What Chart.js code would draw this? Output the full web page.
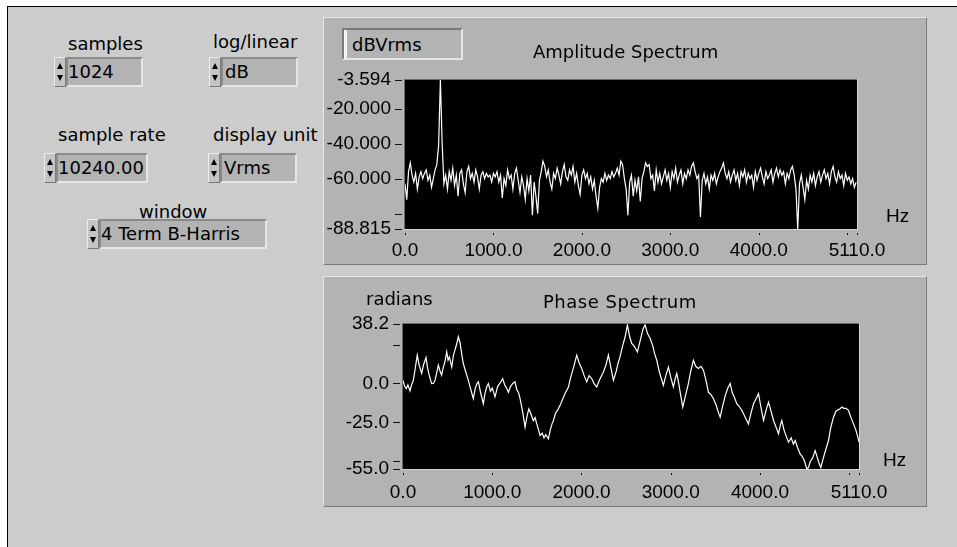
<!DOCTYPE html>
<html>
<head>
<meta charset="utf-8">
<script src="https://cdn.jsdelivr.net/npm/chart.js@4.4.1/dist/chart.umd.min.js"></script>
<style>
  body { margin: 0; background: #fff; width: 957px; height: 547px; overflow: hidden; position: relative; }
  #frame { position: absolute; left: 7px; top: 6px; width: 960px; height: 560px; background: #cccccc;
           border-left: 1px solid #000; border-top: 1px solid #000; }
  .txt { position: absolute; font-family: "DejaVu Sans"; font-size: 18px; line-height: 18px; color: #000; white-space: nowrap; }
  .hz { position: absolute; font-family: "Liberation Sans"; font-size: 19px; line-height: 19px; color: #000; }
  .panel { position: absolute; background: #b3b3b3; box-sizing: border-box;
           border: 1px solid; border-color: #e8e8e8 #7a7a7a #7a7a7a #e8e8e8; }
  .box { position: absolute; height: 30px; background: #b3b3b3; box-sizing: border-box;
         border: 2px solid; border-color: #8a8a8a #e6e6e6 #e6e6e6 #8a8a8a;
         font-family: "DejaVu Sans"; font-size: 18px; line-height: 18px; padding-top: 4px; white-space: nowrap; }
  .spin { position: absolute; width: 12px; height: 30px; box-sizing: border-box; background: #c4c4c4;
          border: 1px solid; border-color: #ececec #7a7a7a #7a7a7a #ececec; }
  .spin i { position: absolute; left: 2px; width: 0; height: 0; border-left: 3px solid transparent; border-right: 3px solid transparent; }
  .spin .up { top: 5px; border-bottom: 6px solid #000; }
  .spin .dn { bottom: 5px; border-top: 6px solid #000; }
  canvas { position: absolute; }
</style>
</head>
<body>
<div id="frame"></div>

<!-- left side controls -->
<div class="txt" style="left:68px; top:35px;">samples</div>
<div class="spin" style="left:54px; top:57px;"><i class="up"></i><i class="dn"></i></div>
<div class="box" style="left:66px; top:57px; width:77px;">1024</div>

<div class="txt" style="left:213px; top:33px;">log/linear</div>
<div class="spin" style="left:209px; top:57px;"><i class="up"></i><i class="dn"></i></div>
<div class="box" style="left:221px; top:57px; width:77px; padding-left:2px;">dB</div>

<div class="txt" style="left:58px; top:126px;">sample rate</div>
<div class="spin" style="left:44px; top:153px;"><i class="up"></i><i class="dn"></i></div>
<div class="box" style="left:56px; top:153px; width:92px;">10240.00</div>

<div class="txt" style="left:213px; top:126px;">display unit</div>
<div class="spin" style="left:208px; top:153px;"><i class="up"></i><i class="dn"></i></div>
<div class="box" style="left:220px; top:153px; width:77px; padding-left:2px;">Vrms</div>

<div class="txt" style="left:139px; top:203px;">window</div>
<div class="spin" style="left:87px; top:219px;"><i class="up"></i><i class="dn"></i></div>
<div class="box" style="left:99px; top:219px; width:168px; padding-top:4px;">4 Term B-Harris</div>

<!-- graph panels -->
<div class="panel" style="left:323px; top:17px; width:604px; height:248px;"></div>
<div class="panel" style="left:323px; top:276px; width:604px; height:231px;"></div>

<canvas id="ampChart" width="604" height="248" style="left:323px; top:17px;"></canvas>
<canvas id="phaseChart" width="604" height="231" style="left:323px; top:276px;"></canvas>

<div class="box" style="left:342px; top:28px; width:121px; height:32px; padding-left:8px; padding-top:6px; border-color:#7a7a7a #e6e6e6 #e6e6e6 #7a7a7a;">dBVrms</div>
<div style="position:absolute; left:344px; top:30px; width:3px; height:28px; background:#f4f4f4;"></div>
<div class="txt" style="left:533px; top:43px;">Amplitude Spectrum</div>
<div class="hz" style="left:886px; top:206px;">Hz</div>

<div class="txt" style="left:366px; top:290px;">radians</div>
<div class="txt" style="left:543px; top:293px; letter-spacing:0.5px;">Phase Spectrum</div>
<div class="hz" style="left:883px; top:450px;">Hz</div>

<script>
// Frequency axis (Hz)
const freqMax = 5110;
const freqTicks = [0, 1000, 2000, 3000, 4000, 5000, 5110];
const freqTickLabels = ["0.0", "1000.0", "2000.0", "3000.0", "4000.0", "", "5110.0"];

// Amplitude spectrum, dBVrms, one value every 20 Hz from 0 Hz
const ampStep = 20;
const ampDb = [
  -63, -72, -56, -51, -58, -62, -57, -66, -59, -56, -60, -57, -55, -61, -58, -65,
  -60, -55, -52, -41, -3.594, -40, -63, -58, -66, -56, -61, -54, -64, -58, -70, -57,
  -55, -63, -68, -56, -53, -60, -57, -62, -55, -59, -66, -58, -56, -60, -57, -59,
  -58, -62, -57, -59, -56, -62, -58, -71, -60, -64, -55, -60, -58, -66, -57, -54,
  -61, -68, -59, -64, -72, -60, -67, -58, -81, -62, -70, -80, -61, -56, -50, -53,
  -59, -55, -62, -66, -57, -60, -54, -58, -63, -56, -52, -59, -61, -55, -58, -53,
  -62, -57, -64, -69, -58, -55, -60, -57, -63, -59, -66, -61, -70, -77, -65, -60,
  -62, -57, -61, -58, -60, -56, -59, -57, -54, -58, -50, -52, -60, -66, -81, -62,
  -58, -70, -61, -67, -59, -73, -60, -56, -51, -53, -52, -60, -58, -67, -55, -62,
  -57, -63, -59, -55, -61, -57, -65, -56, -60, -54, -62, -58, -55, -63, -57, -60,
  -55, -58, -53, -51, -56, -60, -58, -82, -61, -57, -63, -59, -66, -58, -61, -57,
  -63, -59, -56, -54, -51, -57, -60, -56, -62, -58, -55, -61, -57, -64, -56, -59,
  -55, -62, -57, -60, -58, -65, -56, -61, -57, -54, -59, -63, -56, -60, -58, -55,
  -62, -57, -54, -59, -55, -58, -56, -63, -57, -60, -55, -53, -58, -66, -88.8, -63,
  -58, -65, -72, -61, -66, -58, -62, -57, -64, -59, -56, -62, -58, -55, -60, -57,
  -63, -56, -53, -59, -62, -56, -60, -58, -64, -57, -61, -59, -63, -60, -65, -62
];
const ampFreq = ampDb.map((v, i) => i * ampStep);
const ampMin = -88.815;
const ampMax = -3.594;
const ampTicks = [-3.594, -20, -40, -60, -80, -88.815];
const ampTickLabels = ["-3.594", "-20.000", "-40.000", "-60.000", "", "-88.815"];

// Phase spectrum, radians (frequency, value)
const phaseFreq = [
  0, 20, 37, 55, 78, 95, 116, 138, 160, 180, 195, 209, 230, 258, 275, 295, 321, 340, 359, 378,
  396, 415, 433, 450, 470, 490, 505, 520, 546, 565, 585, 600, 620, 640, 660, 676, 700, 732, 760, 788,
  810, 830, 845, 870, 900, 920, 940, 957, 980, 1000, 1031, 1060, 1085, 1117, 1140, 1160, 1181, 1205, 1230, 1255,
  1275, 1295, 1312, 1340, 1368, 1390, 1410, 1430, 1460, 1480, 1499, 1520, 1536, 1560, 1580, 1600, 1629, 1650, 1670, 1686,
  1710, 1735, 1760, 1790, 1820, 1854, 1880, 1910, 1947, 1975, 2003, 2030, 2059, 2085, 2115, 2140, 2171, 2200, 2225, 2246,
  2275, 2302, 2330, 2358, 2390, 2410, 2432, 2460, 2490, 2515, 2540, 2563, 2590, 2610, 2627, 2660, 2690, 2713, 2740, 2769,
  2800, 2820, 2844, 2870, 2895, 2918, 2945, 2974, 3000, 3030, 3050, 3068, 3090, 3110, 3135, 3165, 3198, 3225, 3254, 3280,
  3310, 3340, 3367, 3395, 3423, 3450, 3479, 3510, 3530, 3554, 3580, 3610, 3640, 3666, 3690, 3715, 3740, 3770, 3797, 3820,
  3845, 3871, 3900, 3928, 3955, 3984, 4010, 4040, 4070, 4096, 4125, 4152, 4180, 4208, 4228, 4245, 4270, 4295, 4320, 4350,
  4375, 4395, 4420, 4450, 4475, 4500, 4525, 4544, 4565, 4590, 4619, 4640, 4660, 4682, 4710, 4740, 4768, 4795, 4824, 4850,
  4875, 4899, 4918, 4940, 4965, 4992, 5020, 5048, 5075, 5095, 5110
];
const phaseRad = [
  2, -2, -3.3, -1, -4.8, -1, 2, 10, 18.2, 12, 9, 6.4, 12, 16.7, 10, 5, -0.1, 0, 2, 7,
  11.7, 8, 5.3, 10, 14, 20.3, 15, 17, 10.5, 18, 22, 25, 30, 26, 18, 12.8, 8, 2, -4, -9.8,
  -3, 0, 1, -6, -13, -6, -2, -0.1, -5, -3, -8.6, -2, 0, 3.1, -1, -3, -5.7, -2, 0, 1,
  -4, -6, -9.8, -18, -28.1, -21, -16.3, -19, -24, -22, -26, -30, -33.5, -32, -35, -33, -35.6, -30, -26, -23.8,
  -19, -17, -14.1, -10, -6, -2.3, 4, 10, 18.2, 13, 9.6, 5, 1, 5, 3.1, 0, -2.3, 2, 5, 7.4,
  12, 18.2, 10, 2, 8, 13, 17.1, 24, 30, 37.6, 30, 25.7, 24, 22, 20.3, 28, 35, 37.6, 32, 29,
  24, 19, 14.9, 8, 3, -1.2, 5, 10.5, 4, -2.3, 3, 6.4, 0, -7, -15.2, -8, -0.1, 8, 14.9, 11,
  9.6, 11, 8.5, 2, -5.7, -7, -9.8, -14, -18, -21.7, -15, -8, -3, -0.1, -6, -9, -13, -15, -17.3, -20,
  -23, -26, -19, -13, -10, -6.6, -15, -23.8, -17, -12, -18, -23.8, -28, -32.4, -27, -23.8, -30, -34, -37.8, -35,
  -39, -36.7, -41, -45.3, -47, -50, -55, -54, -50, -48, -43.2, -47, -51, -54, -48, -42, -36.7, -28, -21.7, -18,
  -17, -16.3, -15.2, -16, -16, -17.3, -22, -26, -30, -34, -37.8
];
const phaseMin = -55;
const phaseMax = 38.2;
const phaseTicks = [38.2, 25, 0, -25, -50, -55];
const phaseTickLabels = ["38.2", "", "0.0", "-25.0", "", "-55.0"];

// Black plot area with a sunken edge, dash ticks on y and dot ticks on x
const plotFrame = {
  id: "plotFrame",
  beforeDatasetsDraw(chart) {
    const ctx = chart.ctx, a = chart.chartArea;
    ctx.save();
    ctx.fillStyle = "#000";
    ctx.fillRect(a.left, a.top, a.right - a.left, a.bottom - a.top);
    ctx.fillStyle = "#6a6a6a";
    ctx.fillRect(a.left - 1, a.top - 1, a.right - a.left + 2, 1);
    ctx.fillRect(a.left - 1, a.top - 1, 1, a.bottom - a.top + 2);
    ctx.fillStyle = "#d6d6d6";
    ctx.fillRect(a.left - 1, a.bottom, a.right - a.left + 2, 1);
    ctx.fillRect(a.right, a.top - 1, 1, a.bottom - a.top + 2);
    ctx.restore();
  },
  afterDraw(chart) {
    const ctx = chart.ctx, a = chart.chartArea;
    const xs = chart.scales.x, ys = chart.scales.y;
    ctx.save();
    ctx.fillStyle = "#111";
    ys.ticks.forEach(t => {
      const py = Math.round(ys.getPixelForValue(t.value));
      ctx.fillRect(a.left - 10, py, 7, 1);
    });
    xs.ticks.forEach(t => {
      const px = Math.round(xs.getPixelForValue(t.value));
      ctx.fillRect(px, a.bottom + 4, 1, 2);
    });
    ctx.restore();
  }
};

function makeSpectrum(canvasId, xVals, yVals, yMin, yMax, yTicks, yLabels, box) {
  const ctx = document.getElementById(canvasId).getContext("2d");
  return new Chart(ctx, {
    type: "line",
    data: {
      datasets: [{
        data: xVals.map((x, i) => ({ x: x, y: yVals[i] })),
        borderColor: "#ffffff",
        borderWidth: 1.2,
        pointRadius: 0,
        tension: 0
      }]
    },
    options: {
      responsive: false,
      animation: false,
      devicePixelRatio: 1,
      layout: { padding: { top: box.top, right: box.right, left: 0, bottom: 0 } },
      plugins: { legend: { display: false }, tooltip: { enabled: false } },
      scales: {
        x: {
          type: "linear",
          min: 0,
          max: freqMax,
          grid: { display: false, drawTicks: false },
          border: { display: false },
          afterBuildTicks: s => { s.ticks = freqTicks.map(v => ({ value: v })); },
          afterFit: s => { s.height = box.bottom; s.paddingLeft = 0; s.paddingRight = 0; },
          ticks: {
            maxRotation: 0,
            autoSkip: false,
            padding: box.xPad,
            color: "#000",
            font: { family: "Liberation Sans", size: 19 },
            callback: (v, i) => freqTickLabels[i]
          }
        },
        y: {
          min: yMin,
          max: yMax,
          grid: { display: false, drawTicks: false },
          border: { display: false },
          afterBuildTicks: s => { s.ticks = yTicks.map(v => ({ value: v })); },
          afterFit: s => { s.width = box.left; s.paddingTop = 0; s.paddingBottom = 0; },
          ticks: {
            autoSkip: false,
            padding: 14,
            color: "#000",
            font: { family: "Liberation Sans", size: 19 },
            callback: (v, i) => yLabels[i]
          }
        }
      }
    },
    plugins: [plotFrame]
  });
}

makeSpectrum("ampChart", ampFreq, ampDb, ampMin, ampMax, ampTicks, ampTickLabels,
  { left: 82, right: 70, top: 63, bottom: 36, xPad: 10 });
makeSpectrum("phaseChart", phaseFreq, phaseRad, phaseMin, phaseMax, phaseTicks, phaseTickLabels,
  { left: 80, right: 68, top: 48, bottom: 38, xPad: 12 });
</script>
</body>
</html>
